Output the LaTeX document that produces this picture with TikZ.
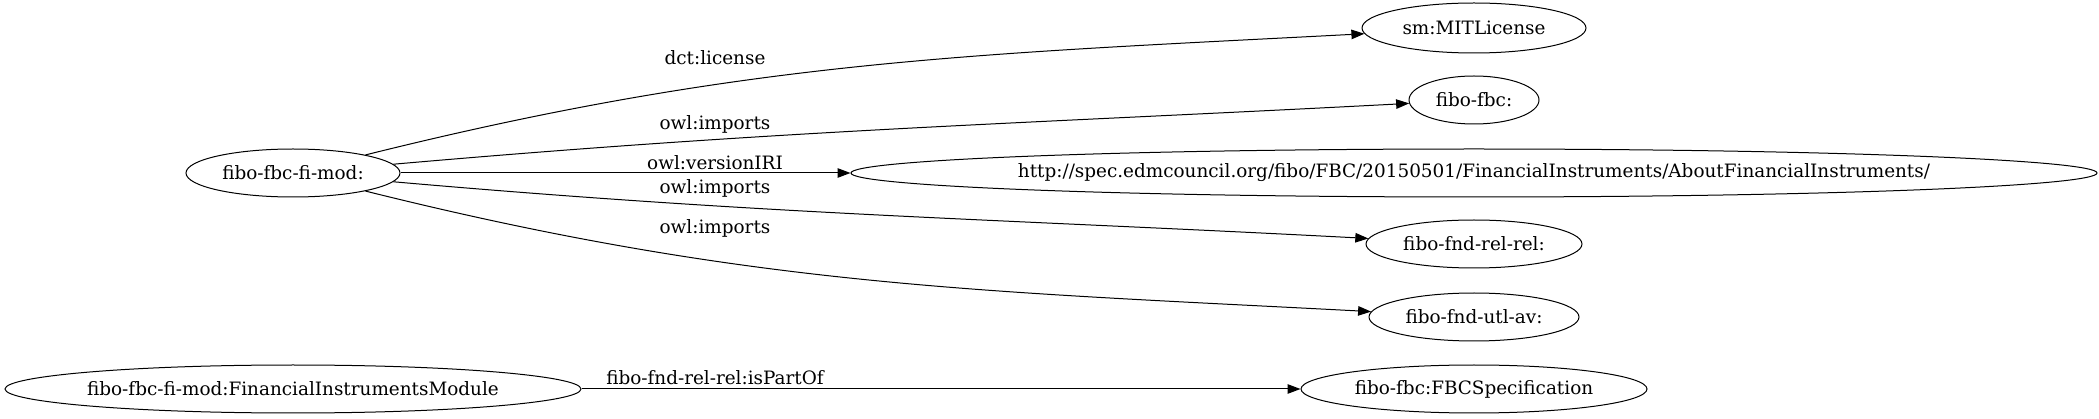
\documentclass[tikz,border=0pt]{standalone}
\usepackage{fontspec}
\setmainfont{DejaVu Serif}
\usetikzlibrary{shapes.geometric,arrows.meta}
\tikzset{
    ent/.style={draw, ellipse, line width=1pt, inner sep=0pt, minimum height=48pt},
    lbl/.style={inner sep=0pt},
    rel/.style={line width=1pt, -{Triangle[length=13pt,width=9.5pt]}}
}
\begin{document}
\begin{tikzpicture}[x=1pt, y=1pt, font=\fontsize{18.4}{21}\selectfont]
    \useasboundingbox (0,0) rectangle (2099,-419);
    \node[ent, minimum width=214pt] (mod) at (293,-173) {fibo-fbc-fi-mod:};
    \node[ent, minimum width=224pt, minimum height=50pt] (lic) at (1474,-28) {sm:MITLicense};
    \node[ent, minimum width=130pt] (fbc) at (1474,-100) {fibo-fbc:};
    \node[ent, minimum width=1246pt] (url) at (1474,-173) {\makebox[0pt]{http://spec.edmcouncil.org/fibo/FBC/20150501/FinancialInstruments/AboutFinancialInstruments/}};
    \node[ent, minimum width=216pt] (frel) at (1474,-244) {fibo-fnd-rel-rel:};
    \node[ent, minimum width=210pt] (futl) at (1474,-317) {fibo-fnd-utl-av:};
    \node[ent, minimum width=576pt] (fimod) at (293,-389) {\makebox[0pt]{fibo-fbc-fi-mod:FinancialInstrumentsModule}};
    \node[ent, minimum width=346pt] (spec) at (1474,-389) {fibo-fbc:FBCSpecification};
    % edges
    \draw[rel] (mod) to[out=14, in=183] (lic);
    \draw[rel] (mod) to[out=5, in=183] (fbc);
    \draw[rel] (mod) -- (url);
    \draw[rel] (mod) to[out=-5, in=177] (frel);
    \draw[rel] (mod) to[out=-14, in=177] (futl);
    \draw[rel] (fimod) -- (spec);
    % edge labels
    \node[lbl] (l1) at (715,-58) {dct:license};
    \node[lbl] (l2) at (715,-124) {owl:imports};
    \node[lbl] (l3) at (715,-163) {owl:versionIRI};
    \node[lbl] (l4) at (715,-188) {owl:imports};
    \node[lbl] (l5) at (715,-228) {owl:imports};
    \node[lbl] (l6) at (715,-378) {fibo-fnd-rel-rel:isPartOf};
\end{tikzpicture}
\end{document}
